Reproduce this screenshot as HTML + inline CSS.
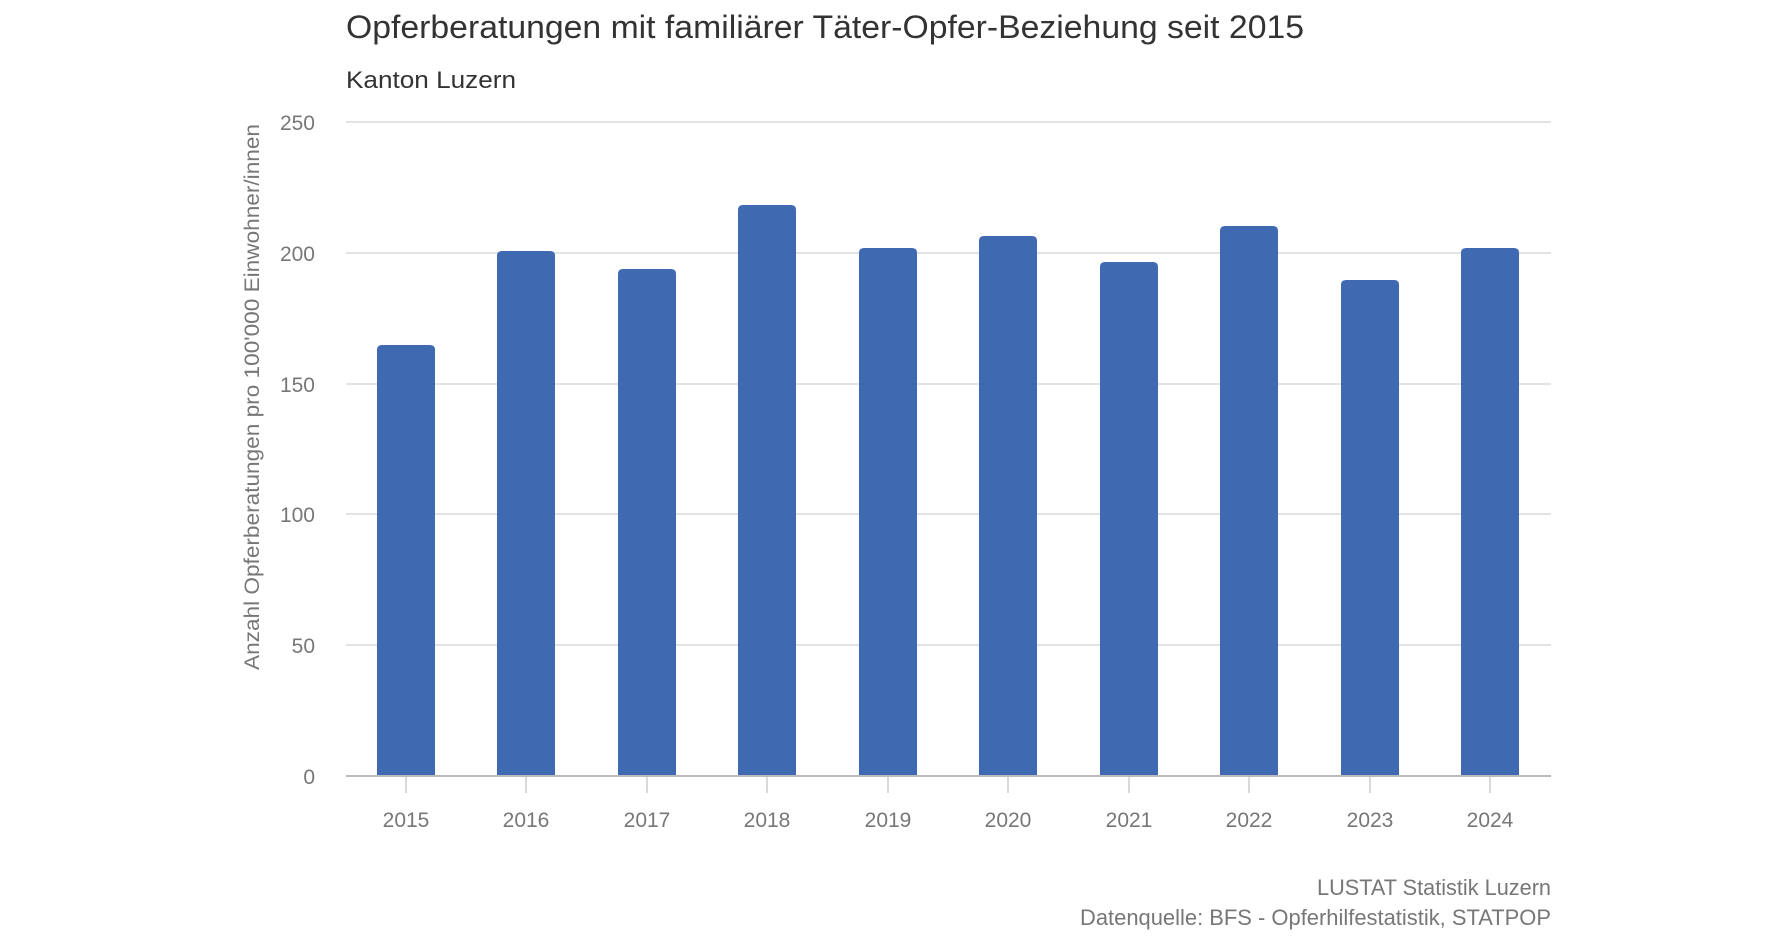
<!DOCTYPE html>
<html><head><meta charset="utf-8"><style>html,body{margin:0;padding:0;background:#fff}svg{display:block}text{font-family:"Liberation Sans",sans-serif}</style></head><body>
<svg width="1788" height="939" viewBox="0 0 1788 939" xmlns="http://www.w3.org/2000/svg">
<text x="346" y="38" font-size="32" fill="#333" textLength="958" lengthAdjust="spacingAndGlyphs">Opferberatungen mit familiärer Täter-Opfer-Beziehung seit 2015</text>
<text x="346" y="88" font-size="24" fill="#333" textLength="170" lengthAdjust="spacingAndGlyphs">Kanton Luzern</text>
<g stroke="#e3e3e3" stroke-width="2">
<line x1="346" x2="1551" y1="122" y2="122"/><line x1="346" x2="1551" y1="253" y2="253"/><line x1="346" x2="1551" y1="384" y2="384"/><line x1="346" x2="1551" y1="514" y2="514"/><line x1="346" x2="1551" y1="645" y2="645"/>
</g>
<g font-size="21" fill="#777" text-anchor="end">
<text x="315" y="130">250</text><text x="315" y="261">200</text><text x="315" y="392">150</text><text x="315" y="522">100</text><text x="315" y="653">50</text><text x="315" y="784">0</text>
</g>
<text transform="translate(259,397) rotate(-90)" font-size="21" fill="#777" text-anchor="middle" textLength="546" lengthAdjust="spacingAndGlyphs">Anzahl Opferberatungen pro 100'000 Einwohner/innen</text>
<g fill="#3f69b1">
<path d="M377 776V350q0-5 5-5h48q5 0 5 5V776z"/>
<path d="M497 776V256q0-5 5-5h48q5 0 5 5V776z"/>
<path d="M618 776V274q0-5 5-5h48q5 0 5 5V776z"/>
<path d="M738 776V210q0-5 5-5h48q5 0 5 5V776z"/>
<path d="M859 776V253q0-5 5-5h48q5 0 5 5V776z"/>
<path d="M979 776V241q0-5 5-5h48q5 0 5 5V776z"/>
<path d="M1100 776V267q0-5 5-5h48q5 0 5 5V776z"/>
<path d="M1220 776V231q0-5 5-5h48q5 0 5 5V776z"/>
<path d="M1341 776V285q0-5 5-5h48q5 0 5 5V776z"/>
<path d="M1461 776V253q0-5 5-5h48q5 0 5 5V776z"/>
</g>
<line x1="346" x2="1551" y1="776" y2="776" stroke="#bbb" stroke-width="2"/>
<g stroke="#ccc" stroke-width="1.5">
<line x1="406" x2="406" y1="777" y2="793"/><line x1="526" x2="526" y1="777" y2="793"/><line x1="647" x2="647" y1="777" y2="793"/><line x1="767" x2="767" y1="777" y2="793"/><line x1="888" x2="888" y1="777" y2="793"/><line x1="1008" x2="1008" y1="777" y2="793"/><line x1="1129" x2="1129" y1="777" y2="793"/><line x1="1249" x2="1249" y1="777" y2="793"/><line x1="1370" x2="1370" y1="777" y2="793"/><line x1="1490" x2="1490" y1="777" y2="793"/>
</g>
<g font-size="21" fill="#777" text-anchor="middle">
<text x="406" y="827">2015</text><text x="526" y="827">2016</text><text x="647" y="827">2017</text><text x="767" y="827">2018</text><text x="888" y="827">2019</text><text x="1008" y="827">2020</text><text x="1129" y="827">2021</text><text x="1249" y="827">2022</text><text x="1370" y="827">2023</text><text x="1490" y="827">2024</text>
</g>
<g font-size="22" fill="#777" text-anchor="end">
<text x="1551" y="895" textLength="234" lengthAdjust="spacingAndGlyphs">LUSTAT Statistik Luzern</text>
<text x="1551" y="925" textLength="471" lengthAdjust="spacingAndGlyphs">Datenquelle: BFS - Opferhilfestatistik, STATPOP</text>
</g>
</svg>
</body></html>
